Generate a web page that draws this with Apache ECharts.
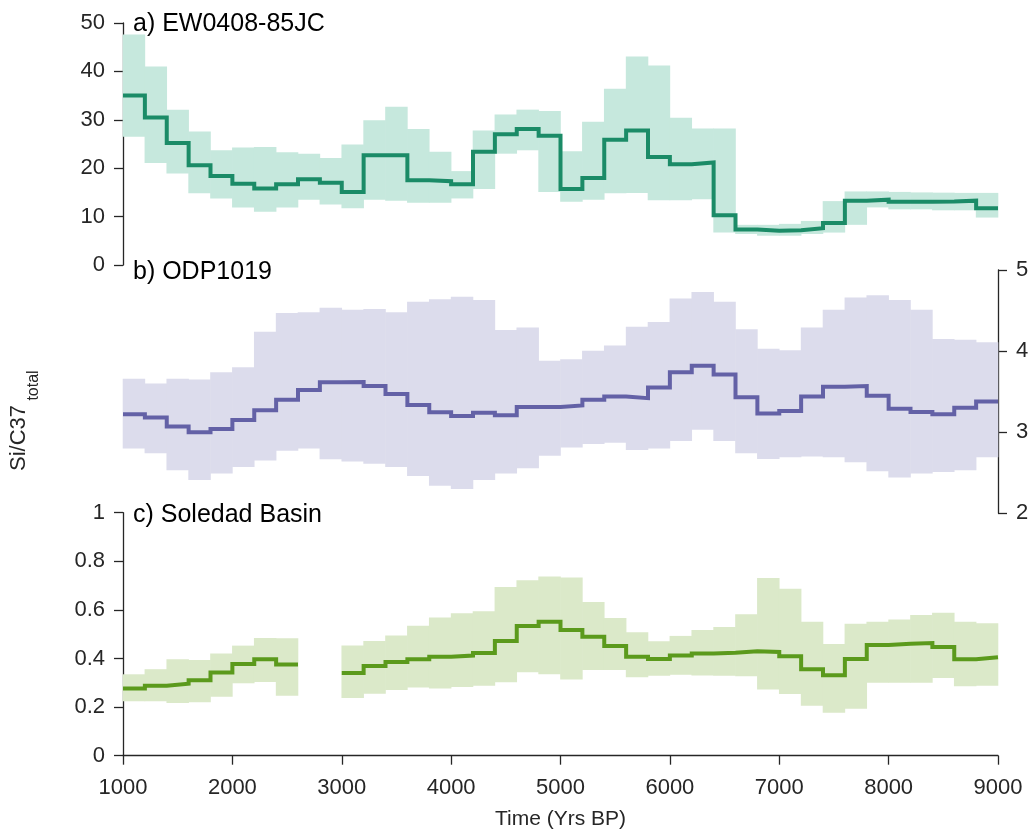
<!DOCTYPE html>
<html>
<head>
<meta charset="utf-8">
<script src="https://cdn.jsdelivr.net/npm/echarts@6/dist/echarts.min.js"></script>
<style>
  html, body { margin: 0; padding: 0; background: #fff; }
  #chart { width: 1031px; height: 829px; }
</style>
</head>
<body>
<div id="chart"></div>
<script>
// bin edges (Yrs BP), 200-yr bins
const edges = [1000, 1200, 1400, 1600, 1800, 2000, 2200, 2400, 2600, 2800,
  3000, 3200, 3400, 3600, 3800, 4000, 4200, 4400, 4600, 4800,
  5000, 5200, 5400, 5600, 5800, 6000, 6200, 6400, 6600, 6800,
  7000, 7200, 7400, 7600, 7800, 8000, 8200, 8400, 8600, 8800, 9000];

// a) EW0408-85JC
const aMid = [35.0, 30.5, 25.2, 20.6, 18.4, 16.8, 15.8, 16.7, 17.7, 17.0,
  15.1, 22.7, 22.7, 17.5, 17.3, 16.7, 23.4, 27.0, 28.1, 26.7,
  15.7, 18.0, 25.9, 27.8, 22.3, 20.8, 21.2, 10.3, 7.35, 7.1,
  7.2, 7.6, 8.7, 13.3, 13.5, 13.05, 13.05, 13.1, 13.3, 11.75];
const aHi = [47.6, 41.0, 32.1, 27.6, 23.7, 24.3, 24.4, 23.3, 23.0, 22.1,
  24.9, 29.9, 32.7, 28.1, 23.4, 19.4, 27.8, 31.1, 32.1, 31.8,
  23.5, 29.6, 36.4, 43.1, 41.2, 30.4, 28.2, 28.2, 8.3, 8.3,
  8.5, 9.1, 13.2, 15.2, 15.2, 15.1, 15.0, 14.95, 14.9, 14.9];
const aLo = [26.5, 21.1, 18.9, 14.8, 13.75, 11.9, 11.0, 11.9, 13.5, 12.5,
  11.7, 13.5, 13.3, 12.85, 12.85, 13.75, 15.7, 23.0, 23.7, 15.1,
  13.05, 13.5, 14.8, 14.9, 13.4, 13.4, 13.6, 6.7, 6.4, 6.05,
  6.05, 6.4, 6.7, 8.3, 11.9, 11.5, 11.5, 11.3, 11.3, 9.8];

// b) ODP1019
const bMid = [3.22, 3.18, 3.07, 3.00, 3.04, 3.15, 3.27, 3.40, 3.52, 3.615,
  3.62, 3.57, 3.47, 3.335, 3.245, 3.20, 3.24, 3.21, 3.31, 3.31,
  3.33, 3.40, 3.44, 3.42, 3.55, 3.74, 3.82, 3.71, 3.43, 3.23,
  3.26, 3.44, 3.56, 3.57, 3.45, 3.29, 3.25, 3.22, 3.30, 3.38];
const bHi = [3.66, 3.60, 3.66, 3.65, 3.74, 3.80, 4.24, 4.47, 4.48, 4.535,
  4.51, 4.52, 4.48, 4.61, 4.64, 4.67, 4.63, 4.26, 4.29, 3.88,
  3.90, 4.005, 4.07, 4.30, 4.36, 4.65, 4.73, 4.61, 4.27, 4.03,
  4.01, 4.29, 4.51, 4.66, 4.69, 4.63, 4.51, 4.15, 4.14, 4.11];
const bLo = [2.80, 2.74, 2.53, 2.41, 2.49, 2.57, 2.65, 2.77, 2.80, 2.665,
  2.64, 2.61, 2.57, 2.46, 2.34, 2.30, 2.41, 2.49, 2.555, 2.71,
  2.81, 2.855, 2.87, 2.78, 2.80, 2.89, 3.03, 2.89, 2.74, 2.67,
  2.69, 2.70, 2.69, 2.63, 2.52, 2.44, 2.49, 2.51, 2.53, 2.69];

// c) Soledad Basin (no data 2600-3000)
const cMid = [0.277, 0.288, 0.296, 0.311, 0.342, 0.377, 0.397, 0.375, null, null,
  0.340, 0.369, 0.386, 0.397, 0.407, 0.412, 0.423, 0.472, 0.534, 0.551,
  0.517, 0.490, 0.451, 0.407, 0.398, 0.412, 0.421, 0.424, 0.430, 0.427,
  0.409, 0.356, 0.331, 0.398, 0.456, 0.461, 0.464, 0.447, 0.397, 0.405];
const cHi = [0.335, 0.356, 0.397, 0.394, 0.421, 0.453, 0.484, 0.483, null, null,
  0.454, 0.472, 0.495, 0.535, 0.569, 0.586, 0.594, 0.694, 0.722, 0.737,
  0.733, 0.633, 0.567, 0.508, 0.471, 0.493, 0.517, 0.530, 0.582, 0.731,
  0.687, 0.551, 0.460, 0.543, 0.551, 0.561, 0.579, 0.588, 0.551, 0.545];
const cLo = [0.224, 0.224, 0.217, 0.220, 0.243, 0.298, 0.303, 0.247, null, null,
  0.237, 0.255, 0.270, 0.281, 0.277, 0.283, 0.288, 0.302, 0.343, 0.335,
  0.314, 0.353, 0.353, 0.323, 0.329, 0.333, 0.330, 0.329, 0.327, 0.272,
  0.254, 0.206, 0.177, 0.193, 0.300, 0.300, 0.300, 0.320, 0.286, 0.288];

const FONT = "'Liberation Sans', Arial, Helvetica, sans-serif";
const INK = '#262626';

// per-bin values -> stair-step points
function steps(vals) {
  const out = [];
  vals.forEach((v, i) => {
    if (v == null) out.push([edges[i], null]);
    else out.push([edges[i], v], [edges[i + 1], v]);
  });
  return out;
}

// uncertainty band: one rectangle per bin
function band(idx, hi, lo, color) {
  const data = [];
  hi.forEach((h, i) => {
    if (h != null && lo[i] != null) data.push([edges[i], edges[i + 1], lo[i], h]);
  });
  return {
    type: 'custom', xAxisIndex: idx, yAxisIndex: idx, silent: true, z: 1,
    encode: { x: [0, 1], y: [2, 3] },
    renderItem: function (params, api) {
      const p0 = api.coord([api.value(0), api.value(3)]);
      const p1 = api.coord([api.value(1), api.value(2)]);
      return {
        type: 'rect',
        shape: { x: p0[0] - 0.3, y: p0[1], width: p1[0] - p0[0] + 0.6, height: p1[1] - p0[1] },
        style: { fill: color }
      };
    },
    data: data
  };
}
function mid(idx, vals, color) {
  return {
    type: 'line', xAxisIndex: idx, yAxisIndex: idx, data: steps(vals),
    showSymbol: false, symbol: 'none', connectNulls: false, z: 3,
    lineStyle: { color: color, width: 4, join: 'miter', cap: 'butt' }
  };
}

function xAxisCfg(idx, show) {
  return {
    type: 'value', gridIndex: idx, min: 1000, max: 9000, interval: 1000,
    show: show,
    name: show ? 'Time (Yrs BP)' : '',
    nameLocation: 'middle', nameGap: 53,
    nameTextStyle: { color: INK, fontSize: 21, fontFamily: FONT },
    axisLine: { show: true, onZero: false, lineStyle: { color: INK, width: 1.3 } },
    axisTick: { show: true, length: 9, lineStyle: { color: INK, width: 1.3 } },
    axisLabel: { color: INK, fontSize: 22, fontFamily: FONT, margin: 21,
      formatter: v => String(v) },
    splitLine: { show: false }
  };
}
function yAxisCfg(idx, min, max, step, pos) {
  return {
    type: 'value', gridIndex: idx, min: min, max: max, interval: step,
    position: pos,
    axisLine: { show: true, onZero: false, lineStyle: { color: INK, width: 1.3 } },
    axisTick: { show: true, length: 9, lineStyle: { color: INK, width: 1.3 } },
    axisLabel: { color: INK, fontSize: 22, fontFamily: FONT, margin: 18,
      formatter: v => String(+v.toFixed(1)) },
    splitLine: { show: false }
  };
}

const chart = echarts.init(document.getElementById('chart'));
const option = {
  animation: false,
  backgroundColor: '#fff',
  grid: [
    { left: 123, right: 33, top: 23, height: 242, outerBoundsMode: 'none' },
    { left: 123, right: 33, top: 270, height: 243.3, outerBoundsMode: 'none' },
    { left: 123, right: 33, top: 512.7, height: 243, outerBoundsMode: 'none' }
  ],
  xAxis: [xAxisCfg(0, false), xAxisCfg(1, false), xAxisCfg(2, true)],
  yAxis: [
    yAxisCfg(0, 0, 50, 10, 'left'),
    yAxisCfg(1, 2, 5, 1, 'right'),
    yAxisCfg(2, 0, 1, 0.2, 'left')
  ],
  graphic: [
    { type: 'text', x: 133, y: 24.5, z: 10, style: { text: 'a) EW0408-85JC', fill: '#000',
      font: '25px ' + FONT, verticalAlign: 'middle' } },
    { type: 'text', x: 133, y: 272.5, z: 10, style: { text: 'b) ODP1019', fill: '#000',
      font: '25px ' + FONT, verticalAlign: 'middle' } },
    { type: 'text', x: 133, y: 515.3, z: 10, style: { text: 'c) Soledad Basin', fill: '#000',
      font: '25px ' + FONT, verticalAlign: 'middle' } },
    { type: 'text', x: 19, y: 438, rotation: Math.PI / 2, style: { text: 'Si/C37',
      fill: INK, font: '22px ' + FONT, align: 'center', verticalAlign: 'middle' } },
    { type: 'text', x: 34, y: 385.5, rotation: Math.PI / 2, style: { text: 'total',
      fill: INK, font: '16px ' + FONT, align: 'center', verticalAlign: 'middle' } }
  ],
  series: [
    band(0, aHi, aLo, '#c6e8dd'), mid(0, aMid, '#1b8b67'),
    band(1, bHi, bLo, '#dcdcec'), mid(1, bMid, '#6361a6'),
    band(2, cHi, cLo, '#dbe9c9'), mid(2, cMid, '#5b9a1c')
  ]
};
chart.setOption(option);
</script>
</body>
</html>
